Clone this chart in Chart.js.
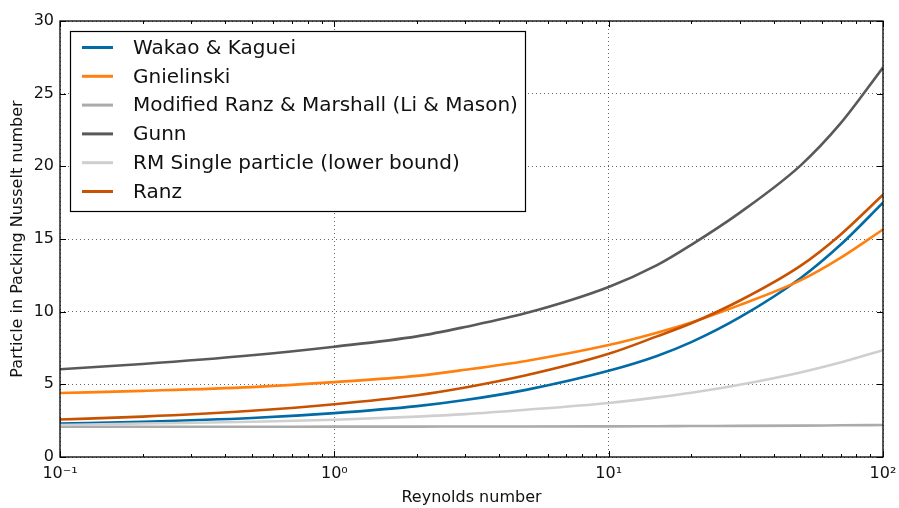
<!DOCTYPE html>
<html>
<head>
<meta charset="utf-8">
<script src="https://cdn.jsdelivr.net/npm/chart.js@4.4.0/dist/chart.umd.min.js"></script>
<style>
  html, body { margin: 0; padding: 0; background: #fff; }
</style>
</head>
<body>
<canvas id="myChart" width="899" height="508"></canvas>
<script>
// values
const reynolds = [0.1, 0.2, 0.5, 1, 2, 3, 5, 10, 15, 20, 30, 50, 70, 100];
const wakaoKaguei = [2.3, 2.42, 2.68, 3.02, 3.5, 3.92, 4.62, 5.93, 6.95, 7.9, 9.6, 12.3, 14.6, 17.5];
const gnielinski = [4.4, 4.55, 4.81, 5.15, 5.58, 6.0, 6.61, 7.7, 8.55, 9.25, 10.45, 12.15, 13.7, 15.65];
const modifiedRanzMarshall = [2.08, 2.08, 2.08, 2.09, 2.09, 2.1, 2.1, 2.11, 2.12, 2.13, 2.14, 2.16, 2.18, 2.2];
const gunn = [6.04, 6.4, 7.0, 7.59, 8.3, 8.95, 9.9, 11.7, 13.2, 14.6, 16.8, 20.05, 22.95, 26.8];
const rmSingle = [2.2, 2.3, 2.43, 2.56, 2.78, 2.95, 3.25, 3.72, 4.1, 4.42, 4.97, 5.82, 6.5, 7.35];
const ranz = [2.58, 2.78, 3.18, 3.63, 4.25, 4.78, 5.62, 7.1, 8.3, 9.2, 10.75, 13.15, 15.3, 18.05];

const seriesNames = ['Wakao & Kaguei', 'Gnielinski', 'Modified Ranz & Marshall (Li & Mason)',
  'Gunn', 'RM Single particle (lower bound)', 'Ranz'];
const seriesValues = [wakaoKaguei, gnielinski, modifiedRanzMarshall, gunn, rmSingle, ranz];
const seriesColors = ['#006BA4', '#FF800E', '#ABABAB', '#595959', '#CFCFCF', '#C85200'];

const xMajor = [0.1, 1, 10, 100];
const xTickLabels = ['10⁻¹', '10⁰', '10¹', '10²'];
const yTicks = [0, 5, 10, 15, 20, 25, 30];

const FONT = 'DejaVu Sans';

const datasets = seriesValues.map((vals, i) => ({
  label: seriesNames[i],
  data: reynolds.map((r, j) => ({ x: r, y: vals[j] })),
  borderColor: seriesColors[i],
  backgroundColor: seriesColors[i],
  borderWidth: 2.6,
  pointRadius: 0,
  cubicInterpolationMode: 'monotone',
  order: seriesValues.length - i
}));

// frame, inward ticks and the legend box inside the axes
const frameAndLegend = {
  id: 'frameAndLegend',
  afterDraw(chart) {
    const { ctx, chartArea: a, scales: { x, y } } = chart;
    ctx.save();
    ctx.strokeStyle = '#000';
    ctx.lineWidth = 1;
    ctx.beginPath();
    const tick = (px, len) => {
      const p = Math.round(px) + 0.5;
      ctx.moveTo(p, a.bottom); ctx.lineTo(p, a.bottom - len);
      ctx.moveTo(p, a.top); ctx.lineTo(p, a.top + len);
    };
    xMajor.forEach(v => tick(x.getPixelForValue(v), 6));
    [0.1, 1, 10].forEach(d => {
      for (let k = 2; k <= 9; k++) tick(x.getPixelForValue(d * k), 3);
    });
    yTicks.forEach(v => {
      const p = Math.round(y.getPixelForValue(v)) + 0.5;
      ctx.moveTo(a.left, p); ctx.lineTo(a.left + 6, p);
      ctx.moveTo(a.right, p); ctx.lineTo(a.right - 6, p);
    });
    ctx.stroke();
    ctx.lineWidth = 1.3;
    ctx.strokeRect(a.left, a.top, a.right - a.left, a.bottom - a.top);

    // legend
    const bx = 70, by = 31, bw = 455, bh = 180;
    ctx.fillStyle = '#fff';
    ctx.fillRect(bx, by, bw, bh);
    ctx.lineWidth = 1.2;
    ctx.strokeStyle = '#000';
    ctx.strokeRect(bx + 0.5, by + 0.5, bw, bh);
    ctx.font = '20px "' + FONT + '"';
    ctx.textBaseline = 'middle';
    chart.data.datasets.forEach((ds, i) => {
      const ry = 47.5 + i * 28.8;
      ctx.strokeStyle = ds.borderColor;
      ctx.lineWidth = 3;
      ctx.beginPath();
      ctx.moveTo(82, ry);
      ctx.lineTo(113, ry);
      ctx.stroke();
      ctx.fillStyle = '#111';
      ctx.fillText(ds.label, 133, ry + 1);
    });
    ctx.restore();
  }
};

const gridStyle = { drawTicks: false, color: 'rgba(0,0,0,0.6)', lineWidth: 1 };
const borderStyle = { display: false, dash: [1, 3] };

new Chart(document.getElementById('myChart'), {
  type: 'line',
  data: { datasets },
  plugins: [frameAndLegend],
  options: {
    responsive: false,
    animation: false,
    devicePixelRatio: 1,
    layout: { padding: { left: 0, top: 21, right: 16, bottom: 0 } },
    plugins: { legend: { display: false }, tooltip: { enabled: false } },
    scales: {
      x: {
        type: 'logarithmic',
        min: 0.1,
        max: 100,
        afterBuildTicks: scale => { scale.ticks = xMajor.map(v => ({ value: v })); },
        afterFit: scale => { scale.height = 51; scale.paddingLeft = 0; scale.paddingRight = 0; },
        ticks: {
          autoSkip: false,
          maxRotation: 0,
          padding: 7,
          color: '#111',
          font: { family: FONT, size: 16 },
          callback: v => xTickLabels[xMajor.indexOf(v)]
        },
        grid: gridStyle,
        border: borderStyle,
        title: {
          display: true,
          text: 'Reynolds number',
          color: '#111',
          font: { family: FONT, size: 16 },
          padding: { top: 0, bottom: 1 }
        }
      },
      y: {
        min: 0,
        max: 30,
        afterBuildTicks: scale => { scale.ticks = yTicks.map(v => ({ value: v })); },
        afterFit: scale => { scale.width = 60; scale.paddingTop = 0; scale.paddingBottom = 0; },
        ticks: {
          padding: 6,
          color: '#111',
          font: { family: FONT, size: 16 }
        },
        grid: gridStyle,
        border: borderStyle,
        title: {
          display: true,
          text: 'Particle in Packing Nusselt number',
          color: '#111',
          font: { family: FONT, size: 16 },
          padding: { top: 8, bottom: 0 }
        }
      }
    }
  }
});
</script>
</body>
</html>
